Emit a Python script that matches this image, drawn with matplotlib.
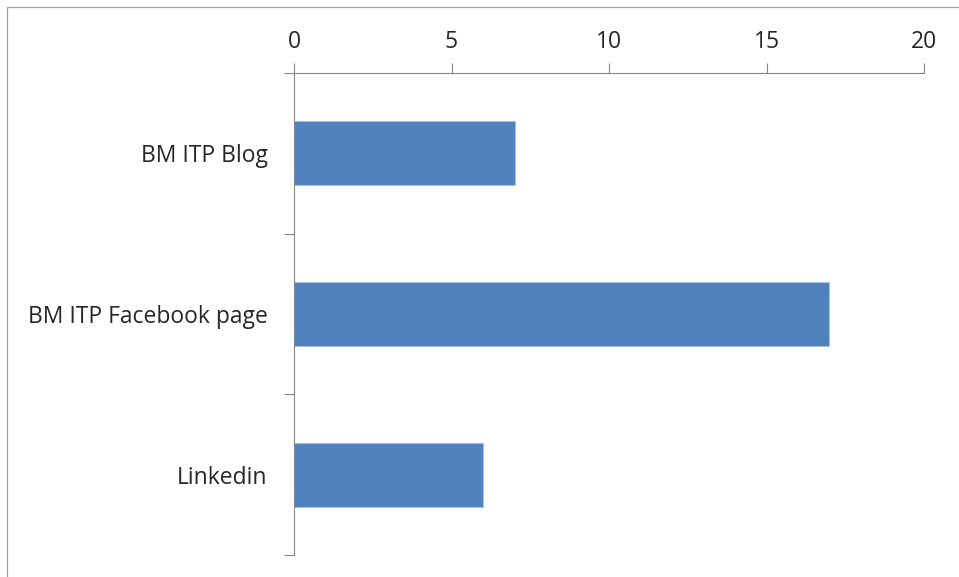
import matplotlib
matplotlib.use("Agg")
import matplotlib.pyplot as plt
from matplotlib.patches import Rectangle

categories = ["BM ITP Blog", "BM ITP Facebook page", "Linkedin"]
values = [7, 17, 6]
xticks = [0, 5, 10, 15, 20]

plt.rcParams['font.family'] = ['Open Sans', 'DejaVu Sans']

W, H = 959, 577
fig = plt.figure(figsize=(W / 100, H / 100), dpi=100)
ax = fig.add_axes([294 / W, 1 - 555 / H, (924 - 294) / W, (555 - 73) / H])

pos = list(range(len(categories)))
ax.barh(pos, values, height=0.4, color="#4F81BD", edgecolor="#A7C0DE", linewidth=0.8)
ax.set_ylim(len(categories) - 0.5, -0.5)
ax.set_xlim(0, 20)

ax.xaxis.tick_top()
ax.set_xticks(xticks)
ax.set_xticklabels([str(t) for t in xticks])
ax.tick_params(axis="x", which="major", direction="out", length=7, width=0.8,
               color="#868686", labelsize=16.5, labelcolor="#262626", pad=7)

ax.set_yticks(pos)
ax.set_yticklabels(categories)
ax.set_yticks([p - 0.5 for p in pos] + [len(pos) - 0.5], minor=True)
ax.tick_params(axis="y", which="major", length=0, labelsize=16.5, labelcolor="#262626", pad=19)
ax.tick_params(axis="y", which="minor", direction="out", length=7, width=0.8, color="#868686")

for s in ["right", "bottom"]:
    ax.spines[s].set_visible(False)
for s in ["left", "top"]:
    ax.spines[s].set_color("#868686")
    ax.spines[s].set_linewidth(0.8)

fig.patches.append(Rectangle((7 / W, -0.1), 1.2, 1 - 7 / H + 0.1, transform=fig.transFigure,
                             fill=False, edgecolor="#A0A0A0", linewidth=0.9))

fig.savefig("out.png", dpi=100, facecolor="white")
